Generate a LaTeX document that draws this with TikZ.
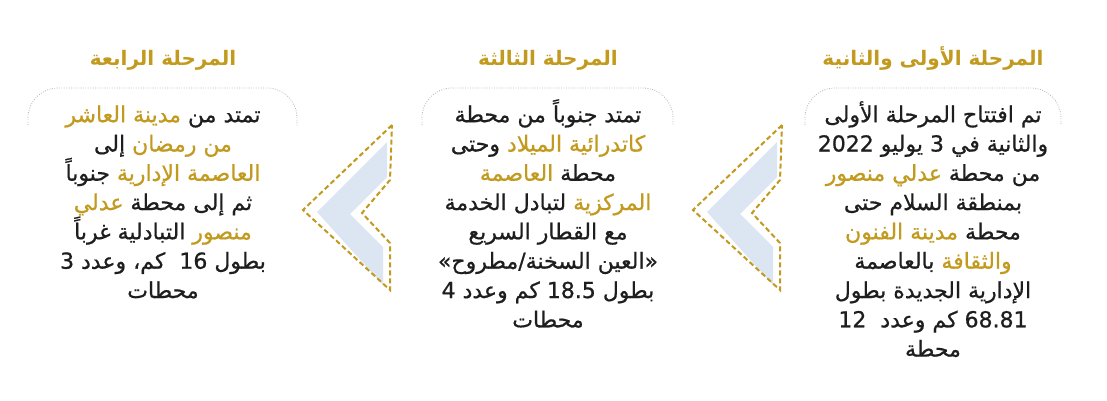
\documentclass[tikz,border=0pt]{standalone}
\usepackage{fontspec}
\usepackage{xcolor}
\usetikzlibrary{positioning}
\TeXXeTstate=1
\newfontfamily\arabicfont[Script=Arabic]{DejaVu Sans}
\newfontfamily\arabicbody[Script=Arabic,FakeBold=0.7]{DejaVu Sans}
\definecolor{stagegold}{HTML}{C29A1E}
\definecolor{chevblue}{HTML}{DCE6F2}
\definecolor{textblack}{HTML}{1E1E1E}
\newcommand{\rtl}[1]{\beginR\rule{0pt}{25pt}#1\endR}
\newcommand{\tightlines}{\setlength{\lineskiplimit}{-100pt}}
% gold words inside a right-to-left line (the line is reversed at shipout)
\newcommand{\gw}[1]{\special{color pop}#1\special{color push rgb 0.761 0.604 0.118}}

\begin{document}
\begin{tikzpicture}[x=1pt, y=-1pt,
    stagehead/.style={font=\arabicfont\bfseries\fontsize{20}{24}\selectfont, text=stagegold, inner sep=0pt},
    stagebody/.style={font=\arabicbody\fontsize{22}{29.3}\selectfont\tightlines, text=textblack, align=center, inner sep=0pt, anchor=north},
    capline/.style={draw=gray!60, line width=0.8pt, dash pattern=on 0.8pt off 1.6pt, rounded corners=30pt},
    chevline/.style={draw=stagegold, line width=2pt, dash pattern=on 5pt off 3pt}
]
    \fill[white] (0,0) rectangle (1107,400);
    \useasboundingbox (0,0) rectangle (1107,400);

    % headings
    \node[stagehead] (head12) at (933,55) {\rtl{المرحلة الأولى والثانية}};
    \node[stagehead] (head3) at (548,55) {\rtl{المرحلة الثالثة}};
    \node[stagehead] (head4) at (163,55) {\rtl{المرحلة الرابعة}};

    % box tops
    \draw[capline] (805,125) |- (1061,88) -- (1061,125);
    \draw[capline] (422,125) |- (673,88) -- (673,125);
    \draw[capline] (28,125) |- (297,88) -- (297,125);

    % stage texts
    \node[stagebody] (body12) at (933,97) {%
        \rtl{تم افتتاح المرحلة الأولى}\\
        \rtl{والثانية في 3 يوليو 2022}\\
        \rtl{من محطة \gw{عدلي منصور}}\\
        \rtl{بمنطقة السلام حتى}\\
        \rtl{محطة \gw{مدينة الفنون}}\\
        \rtl{\gw{والثقافة} بالعاصمة}\\
        \rtl{الإدارية الجديدة بطول}\\
        \rtl{68.81 كم وعدد\ \ 12}\\
        \rtl{محطة}};
    \node[stagebody] (body3) at (548,97) {%
        \rtl{تمتد جنوباً من محطة}\\
        \rtl{\gw{كاتدرائية الميلاد} وحتى}\\
        \rtl{محطة \gw{العاصمة}}\\
        \rtl{\gw{المركزية} لتبادل الخدمة}\\
        \rtl{مع القطار السريع}\\
        \rtl{«العين السخنة/مطروح»}\\
        \rtl{بطول 18.5 كم وعدد 4}\\
        \rtl{محطات}};
    \node[stagebody] (body4) at (163,97) {%
        \rtl{تمتد من \gw{مدينة العاشر}}\\
        \rtl{\gw{من رمضان} إلى}\\
        \rtl{\gw{العاصمة الإدارية} جنوباً}\\
        \rtl{ثم إلى محطة \gw{عدلي}}\\
        \rtl{\gw{منصور} التبادلية غرباً}\\
        \rtl{بطول 16\ \ كم، وعدد 3}\\
        \rtl{محطات}};

    % chevrons
    \foreach \dx in {0,-390} {
        \begin{scope}[xshift=\dx pt]
            \fill[chevblue] (777,142) -- (707,212) -- (773,285) -- (773,247) -- (740,214) -- (777,177) -- cycle;
            \draw[chevline] (782,125) -- (693,210) -- (780,290) -- (780,243) -- (752,213) -- (780,180) -- cycle;
        \end{scope}
    }
\end{tikzpicture}
\end{document}
